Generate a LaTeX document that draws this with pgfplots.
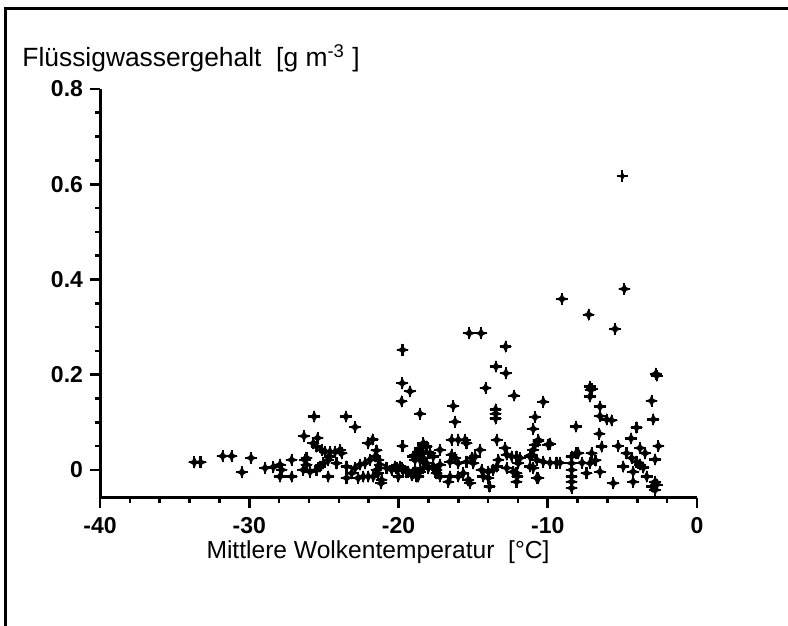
\documentclass[border=0pt]{standalone}
\usepackage{fontspec}
\setmainfont{Liberation Sans}
\usepackage{pgfplots}
\pgfplotsset{compat=1.18}
\pgfdeclareplotmark{star4}{%
 \pgfpathmoveto{\pgfqpoint{0.6\pgfplotmarksize}{0pt}}%
 \pgfpathlineto{\pgfqpoint{0.18\pgfplotmarksize}{0.18\pgfplotmarksize}}%
 \pgfpathlineto{\pgfqpoint{0pt}{0.6\pgfplotmarksize}}%
 \pgfpathlineto{\pgfqpoint{-0.18\pgfplotmarksize}{0.18\pgfplotmarksize}}%
 \pgfpathlineto{\pgfqpoint{-0.6\pgfplotmarksize}{0pt}}%
 \pgfpathlineto{\pgfqpoint{-0.18\pgfplotmarksize}{-0.18\pgfplotmarksize}}%
 \pgfpathlineto{\pgfqpoint{0pt}{-0.6\pgfplotmarksize}}%
 \pgfpathlineto{\pgfqpoint{0.18\pgfplotmarksize}{-0.18\pgfplotmarksize}}%
 \pgfpathclose
 \pgfusepathqfillstroke
 \pgfsetlinewidth{1.1pt}%
 \pgfpathmoveto{\pgfqpoint{-\pgfplotmarksize}{0pt}}%
 \pgfpathlineto{\pgfqpoint{\pgfplotmarksize}{0pt}}%
 \pgfpathmoveto{\pgfqpoint{0pt}{-\pgfplotmarksize}}%
 \pgfpathlineto{\pgfqpoint{0pt}{\pgfplotmarksize}}%
 \pgfusepathqstroke}
\pgfplotstableread{
x y
-5.00 0.617
-4.87 0.380
-9.05 0.359
-7.26 0.326
-5.49 0.296
-15.26 0.287
-14.47 0.287
-12.82 0.259
-19.73 0.252
-13.47 0.217
-12.80 0.203
-19.75 0.182
-19.23 0.165
-19.79 0.144
-14.16 0.172
-18.56 0.118
-16.33 0.134
-16.21 0.101
-12.25 0.156
-13.49 0.127
-13.49 0.118
-13.49 0.108
-10.30 0.143
-10.85 0.111
-10.97 0.086
-8.11 0.091
-7.17 0.175
-7.05 0.170
-7.13 0.168
-7.17 0.154
-6.50 0.133
-6.50 0.113
-6.05 0.106
-5.72 0.104
-6.54 0.076
-6.39 0.049
-5.28 0.050
-4.05 0.089
-4.42 0.066
-2.75 0.202
-2.70 0.198
-3.04 0.145
-2.93 0.106
-2.59 0.050
-2.81 0.022
-3.37 -0.014
-2.81 -0.025
-2.70 -0.031
-2.81 -0.042
-3.00 -0.035
-5.61 -0.028
-8.40 -0.038
-8.40 0.028
-8.40 0.014
-8.40 0.000
-8.40 -0.014
-7.95 0.035
-7.06 0.035
-7.17 0.014
-7.40 -0.007
-6.50 -0.004
-6.80 0.020
-4.94 0.007
-4.28 -0.004
-4.28 -0.025
-4.72 0.035
-4.38 0.025
-4.05 0.017
-3.82 0.011
-3.82 0.046
-3.48 0.035
-3.60 0.005
-10.30 0.017
-9.85 0.015
-9.41 0.015
-9.18 0.015
-9.97 0.053
-10.63 0.063
-10.85 0.053
-10.97 0.042
-11.08 0.032
-11.19 0.028
-10.74 0.021
-11.86 0.025
-11.98 0.014
-12.09 -0.007
-12.09 -0.025
-10.63 -0.017
-10.97 0.004
-11.19 0.007
-12.86 0.046
-12.75 0.032
-12.42 0.028
-12.09 0.028
-13.42 0.063
-13.31 0.021
-13.42 0.007
-13.65 0.000
-13.98 -0.004
-14.43 0.000
-14.99 0.014
-14.87 0.028
-14.54 0.042
-15.44 0.056
-15.55 0.063
-16.00 0.063
-16.44 0.063
-16.44 0.032
-16.21 0.025
-16.55 0.017
-16.00 0.014
-15.44 0.017
-15.10 0.025
-16.55 -0.014
-16.00 -0.014
-15.66 -0.007
-15.33 -0.021
-15.21 -0.028
-16.66 -0.025
-17.22 -0.014
-17.45 -0.007
-17.22 0.011
-17.67 0.007
-18.00 0.004
-18.22 0.014
-18.56 0.021
-18.89 0.021
-18.89 0.032
-18.56 0.038
-18.34 0.053
-19.68 0.000
-19.34 -0.004
-19.01 -0.007
-18.67 -0.014
-17.22 0.042
-14.32 -0.014
-13.98 -0.017
-13.90 -0.035
-12.75 0.004
-12.31 -0.004
-12.04 -0.014
-10.74 -0.017
-10.63 0.060
-9.85 0.055
-8.40 -0.025
-8.10 0.035
-7.70 0.015
-33.68 0.016
-33.26 0.016
-31.78 0.029
-31.18 0.029
-30.49 -0.005
-29.88 0.025
-28.94 0.004
-28.39 0.006
-27.94 0.011
-27.83 0.000
-27.16 0.021
-27.94 -0.014
-27.16 -0.014
-26.16 0.025
-26.33 0.071
-25.65 0.112
-25.42 0.067
-25.71 0.056
-25.49 0.049
-25.15 0.042
-24.92 0.038
-24.59 0.038
-24.25 0.038
-23.92 0.042
-23.81 0.035
-26.27 0.021
-26.16 0.011
-26.38 0.000
-25.93 -0.004
-25.49 0.000
-25.26 0.007
-25.04 0.014
-24.71 0.021
-24.59 0.028
-24.71 -0.014
-24.15 0.014
-23.48 0.007
-23.52 0.112
-22.91 0.090
-23.48 -0.017
-23.14 -0.007
-22.91 0.004
-22.58 0.011
-22.24 0.014
-21.91 0.021
-21.57 0.028
-21.35 0.021
-21.24 0.011
-21.47 0.000
-21.69 -0.014
-22.03 -0.014
-22.36 -0.014
-22.70 -0.017
-22.03 0.056
-21.73 0.064
-21.47 0.041
-21.13 -0.021
-21.17 -0.028
-21.36 -0.007
-19.73 0.050
-20.24 0.007
-19.90 0.007
-20.01 -0.014
-20.80 0.004
-20.46 0.000
-20.13 0.004
-19.79 0.004
-19.46 -0.004
-19.12 -0.011
-18.89 0.000
-18.56 -0.004
-18.34 0.004
-18.34 0.025
-18.34 0.035
-18.34 0.056
-18.12 0.049
-18.56 0.046
-18.79 0.032
-17.89 0.035
-17.67 0.028
-17.67 0.007
-17.45 0.000
-18.79 -0.014
-19.01 0.028
-18.12 0.014
}\datatable
\begin{document}
\begin{tikzpicture}
\useasboundingbox (0,0) rectangle (394pt,313pt);
\draw[line width=1.5pt] (2.5pt,-2pt) -- (2.5pt,308.5pt) -- (396pt,308.5pt);
\begin{axis}[
  at={(50pt,64pt)}, anchor=south west,
  scale only axis, width=298.5pt, height=204.5pt,
  xmin=-40, xmax=0, ymin=-0.059, ymax=0.8,
  axis lines=left, axis line style={line width=1.5pt,-},
  xtick={-40,-30,-20,-10,0},
  ytick={0,0.2,0.4,0.6,0.8},
  minor x tick num=4,
  minor ytick={0.05,0.1,0.15,0.25,0.3,0.35,0.45,0.5,0.55,0.65,0.7,0.75},
  tick align=outside, major tick length=5pt, minor tick length=2.5pt,
  every tick/.style={black, line width=1.3pt},
  tick label style={font=\fontsize{11.5}{13}\selectfont\bfseries},
  xticklabel style={yshift=-1pt},
  /pgf/number format/assume math mode=true,
  yticklabel style={/pgf/number format/fixed,/pgf/number format/precision=1},
  clip=false,
]
\addplot[only marks, mark=star4, mark size=2.9pt, black, mark options={line width=0.5pt}] table[x=x,y=y] {\datatable};
\end{axis}
\node[anchor=west, font=\fontsize{13.2}{15}\selectfont, inner sep=0pt] at (11pt,284pt) {Flüssigwassergehalt\ \ [g m\textsuperscript{-3} ]};
\node[font=\fontsize{12.3}{14}\selectfont, inner sep=0pt] at (189pt,37pt) {Mittlere Wolkentemperatur\ \ [°C]};
\end{tikzpicture}
\end{document}
